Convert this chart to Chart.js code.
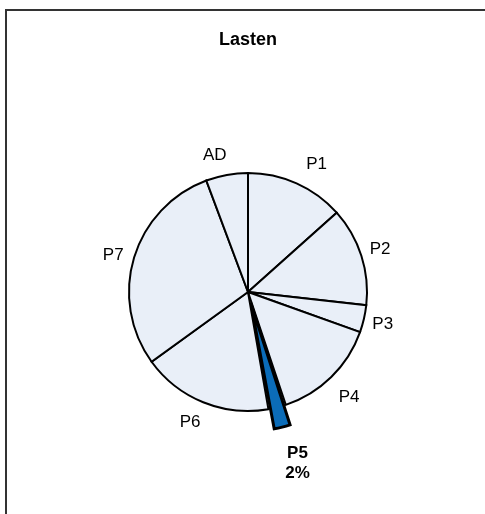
<!DOCTYPE html>
<html>
<head>
<meta charset="utf-8">
<script src="https://cdn.jsdelivr.net/npm/chart.js@4"></script>
<style>
  html, body { margin: 0; padding: 0; background: #fff; }
  #wrap { position: relative; width: 485px; height: 514px; overflow: hidden; }
  #frame {
    position: absolute; left: 5px; top: 9px; width: 478px; height: 520px;
    border-top: 2px solid #333; border-left: 2px solid #333;
  }
  canvas { position: absolute; left: 0; top: 0; }
</style>
</head>
<body>
<div id="wrap">
  <div id="frame"></div>
  <canvas id="pie" width="485" height="514"></canvas>
</div>
<script>
  // slices, clockwise from 12 o'clock
  const labels = ["P1", "P2", "P3", "P4", "P5", "P6", "P7", "AD"];
  const shares = [13.4, 13.4, 3.7, 14.4, 2.4, 17.8, 29.3, 5.7];
  const highlight = "P5"; // the pulled-out slice, shown with its percentage

  const paleFill = "#E9EFF8";
  const blueFill = "#0B6CB8";
  const fontFamily = "'Liberation Sans', Arial, Helvetica, sans-serif";

  // small hand tweaks so the labels land where the original put them
  const nudge = {
    P1: [10, 3], P2: [-4, 1], P3: [-4, 0], P4: [0, 2],
    P5: [7, 4], P6: [-4, -2], P7: [2, 5], AD: [-8, 3]
  };

  //labels sit outside the pie, pushed out by half the text box
  const outsideLabels = {
    id: 'outsideLabels',
    afterDatasetsDraw(chart) {
      const ctx = chart.ctx;
      const meta = chart.getDatasetMeta(0);
      ctx.save();
      ctx.fillStyle = "#000";
      ctx.textAlign = "center";
      ctx.textBaseline = "middle";

      meta.data.forEach(function (arc, i) {
        const name = labels[i];
        const mid = (arc.startAngle + arc.endAngle) / 2;
        const isHi = name === highlight;
        let lines = [name];
        if (isHi) {
          lines.push(Math.round(shares[i]) + "%");
        }
        const lh = 20;
        ctx.font = (isHi ? "bold " : "") + "17px " + fontFamily;
        let w = 0;
        lines.forEach(function (t) { w = Math.max(w, ctx.measureText(t).width); });
        const h = lines.length * lh;
        const cx = Math.cos(mid), sy = Math.sin(mid);
        const push = isHi ? (arc.options.offset || 0) * 0.47 : 0;
        const halfExt = Math.abs(cx) * w / 2 + Math.abs(sy) * h / 2;
        const r = arc.outerRadius + push + 11 + halfExt;
        const n = nudge[name] || [0, 0];
        const x = arc.x + cx * r + n[0];
        const y = arc.y + sy * r + n[1];
        lines.forEach(function (t, k) {
          ctx.fillText(t, x, y - h / 2 + lh / 2 + k * lh);
        });
      });

      // chart title
      ctx.font = "bold 18px " + fontFamily;
      ctx.fillText("Lasten", 248, 40);
      ctx.restore();
    }
  };

  new Chart(document.getElementById('pie'), {
    type: 'pie',
    data: {
      labels: labels,
      datasets: [{
        data: shares,
        backgroundColor: labels.map(l => l === highlight ? blueFill : paleFill),
        borderColor: "#000",
        borderWidth: labels.map(l => l === highlight ? 3 : 2),
        borderJoinStyle: 'miter',
        offset: labels.map(l => l === highlight ? 44 : 0)
      }]
    },
    options: {
      responsive: false,
      animation: false,
      radius: 119,
      layout: {
        padding: { left: 60, right: 49, top: 120, bottom: 50 }
      },
      plugins: {
        legend: { display: false },
        tooltip: { enabled: false },
        title: { display: false }
      }
    },
    plugins: [outsideLabels]
  });
</script>
</body>
</html>
